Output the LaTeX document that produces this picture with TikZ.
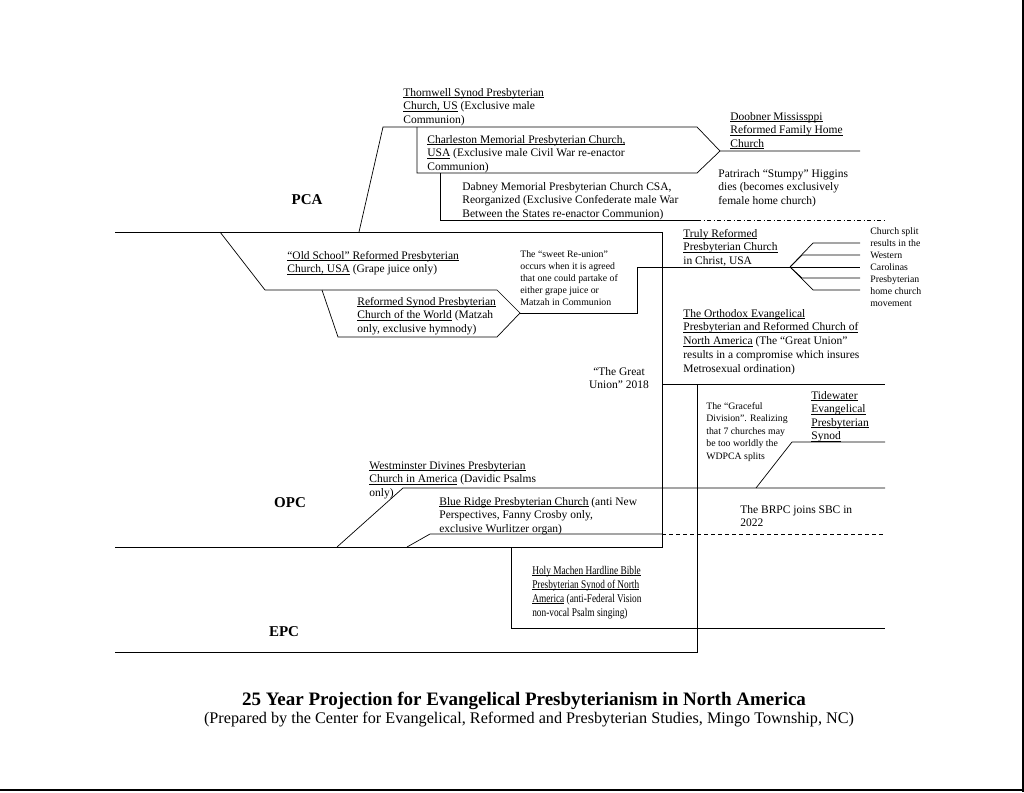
\documentclass[tikz,border=0pt]{standalone}
\usepackage{fontspec}
\setmainfont{Liberation Serif}
\newcommand{\undl}[1]{\setbox0\hbox{#1}\rlap{\rule[-1.7pt]{\wd0}{0.55pt}}\box0\relax}

\begin{document}
\begin{tikzpicture}[x=1pt, y=-1pt, line width=0.7pt,
  entry/.style={anchor=base west, inner sep=0pt, align=left, font=\fontsize{11.5}{13.5}\selectfont},
  note/.style={anchor=base west, inner sep=0pt, align=left, font=\fontsize{9.8}{12}\selectfont},
  denom/.style={inner sep=0pt, font=\fontsize{15}{18}\bfseries\selectfont},
  future/.style={dash pattern=on 4pt off 3pt}]
\useasboundingbox (0,0) rectangle (1024,792);
\draw[line width=2.5pt] (1023,0) -- (1023,792);
\draw[line width=2.5pt] (0,790) -- (1024,790);

% PCA branches
\coordinate (doobner) at (720,151);
\coordinate (reunion) at (520,313);
\coordinate (fork) at (790,267);
\draw (115,232) -- (662,232) -- (662,547) -- (115,547);
\draw (359,232) -- (383,127) -- (697,127) -- (doobner) -- (860,151);
\draw (417,127) -- (417,173) -- (697,173) -- (doobner);
\draw (440,173) -- (440,220) -- (697,220);
\draw[dash pattern=on 4pt off 2.5pt on 1pt off 2.5pt] (697,220) -- (885,220);
\draw (220,232) -- (265,290) -- (497,290) -- (reunion);
\draw (322,290) -- (338,337) -- (497,337) -- (reunion);
\draw (reunion) -- (637,313) -- (637,267) -- (fork);
\draw (fork) -- (860,267);
\foreach \y/\x in {243/813, 255/802, 278/802, 290/813}{
\draw (fork) -- (\x,\y) -- (860,\y);
}

% Great Union, OPC and EPC
\draw (662,384) -- (885,384);
\draw (115,652) -- (697,652) -- (697,384);
\draw (337,547) -- (403,488) -- (885,488);
\draw (756,488) -- (792,442) -- (885,442);
\draw (407,547) -- (430,534) -- (662,534);
\draw[future] (662,534) -- (885,534);
\draw (511,547) -- (511,628) -- (885,628);

% labels (placed at the baseline of their last line)
\node[denom] (pca) at (307,200) {PCA};
\node[denom] (opc) at (290,503) {OPC};
\node[denom] (epc) at (284,632) {EPC};

\node[entry] (thornwell) at (403,123) {\undl{Thornwell Synod Presbyterian}\\\undl{Church, US} (Exclusive male\\Communion)};
\node[entry] (charleston) at (427,170) {\undl{Charleston Memorial Presbyterian Church,}\\\undl{USA} (Exclusive male Civil War re-enactor\\Communion)};
\node[entry] (dabney) at (462,217) {Dabney Memorial Presbyterian Church CSA,\\Reorganized (Exclusive Confederate male War\\Between the States re-enactor Communion)};
\node[entry] (doobnerchurch) at (730,147) {\undl{Doobner Mississppi}\\\undl{Reformed Family Home}\\\undl{Church}};
\node[entry] (higgins) at (718,204) {Patrirach “Stumpy” Higgins\\dies (becomes exclusively\\female home church)};
\node[entry] (trulyreformed) at (683,264) {\undl{Truly Reformed}\\\undl{Presbyterian Church}\\in Christ, USA};
\node[note] (split) at (870,306) {Church split\\results in the\\Western\\Carolinas\\Presbyterian\\home church\\movement};
\node[entry] (oldschool) at (287,272.5) {\undl{“Old School” Reformed Presbyterian}\\\undl{Church, USA} (Grape juice only)};
\node[note] (sweet) at (520,305) {The “sweet Re-union”\\occurs when it is agreed\\that one could partake of\\either grape juice or\\Matzah in Communion};
\node[entry] (refsynod) at (357,332) {\undl{Reformed Synod Presbyterian}\\\undl{Church of the World} (Matzah\\only, exclusive hymnody)};
\node[entry, font=\fontsize{11.5}{13.75}\selectfont] (orthodox) at (683,372) {\undl{The Orthodox Evangelical}\\\undl{Presbyterian and Reformed Church of}\\\undl{North America} (The “Great Union”\\results in a compromise which insures\\Metrosexual ordination)};
\node[entry, align=center, anchor=base] (greatunion) at (619,388.5) {“The Great\\Union” 2018};
\node[note, font=\fontsize{9.8}{12.5}\selectfont] (graceful) at (706,459) {The “Graceful\\Division”. Realizing\\that 7 churches may\\be too worldly the\\WDPCA splits};
\node[entry] (tidewater) at (811,439.5) {\undl{Tidewater}\\\undl{Evangelical}\\\undl{Presbyterian}\\\undl{Synod}};
\node[entry] (westminster) at (369,496) {\undl{Westminster Divines Presbyterian}\\\undl{Church in America} (Davidic Psalms\\only)};
\node[entry] (blueridge) at (439,532) {\undl{Blue Ridge Presbyterian Church} (anti New\\Perspectives, Fanny Crosby only,\\exclusive Wurlitzer organ)};
\node[entry] (brpc) at (740,526.5) {The BRPC joins SBC in\\2022};
\node[entry, font=\fontsize{11.8}{14}\selectfont, xscale=0.79, transform shape] (machen) at (532,616) {\undl{Holy Machen Hardline Bible}\\\undl{Presbyterian Synod of North}\\\undl{America} (anti-Federal Vision\\non-vocal Psalm singing)};

\node[font=\fontsize{19}{22}\bfseries\selectfont] (title) at (524,701) {25 Year Projection for Evangelical Presbyterianism in North America};
\node[font=\fontsize{16.2}{19}\selectfont] (subtitle) at (529,720) {(Prepared by the Center for Evangelical, Reformed and Presbyterian Studies, Mingo Township, NC)};
\end{tikzpicture}
\end{document}
